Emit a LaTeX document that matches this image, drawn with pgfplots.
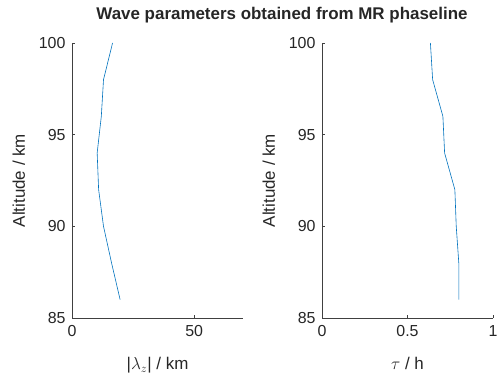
\documentclass[border=0pt]{standalone}
\usepackage{pgfplots}
\pgfplotsset{compat=1.18}
\usepackage{fontspec}
\setmainfont{Liberation Sans}
\definecolor{mblue}{rgb}{0,0.447,0.741}
\definecolor{axgray}{rgb}{0.25,0.25,0.25}
\pgfplotsset{
  myax/.style={
    scale only axis,
    width=171bp, height=275bp,
    anchor=south west,
    axis x line*=bottom, axis y line*=left,
    axis line style={axgray, line width=0.6bp},
    tick style={axgray, line width=0.6bp},
    tick align=inside,
    major tick length=3bp,
    ymin=85, ymax=100, ytick={85,90,95,100},
    tick label style={font=\fontsize{16}{19}\selectfont, text=black!85},
    label style={font=\fontsize{17}{20}\selectfont, text=black!85},
    xticklabel style={yshift=-4bp},
    yticklabel style={xshift=-3bp},
    xlabel style={yshift=-14bp},
    ylabel style={yshift=7bp},
    /pgf/number format/assume math mode=true,
    ylabel={Altitude / km},
  },
}
\begin{document}
\begin{tikzpicture}
\useasboundingbox (0,0) rectangle (500bp,374bp);
\begin{axis}[myax, at={(72bp,56bp)}, xmin=0, xmax=70, xtick={0,50}, xlabel={|$\lambda_z$| / km}]
\addplot[mblue, line width=0.6bp] coordinates {
(19.7,86) (16.2,88) (12.9,90) (10.9,92) (10.3,94) (12.0,96) (12.9,98) (16.6,100)};
\end{axis}
\begin{axis}[myax, at={(322bp,56bp)}, xmin=0, xmax=1, xtick={0,0.5,1},
  xticklabels={0,0.5,1}, xlabel={$\tau$ / h}]
\addplot[mblue, line width=0.6bp] coordinates {
(0.80,86) (0.80,88) (0.785,90) (0.777,92) (0.717,94) (0.707,96) (0.647,98) (0.634,100)};
\end{axis}
\node[font=\fontsize{17}{20}\selectfont\bfseries, text=black!85] at (282bp,359bp) {Wave parameters obtained from MR phaseline};
\end{tikzpicture}
\end{document}
